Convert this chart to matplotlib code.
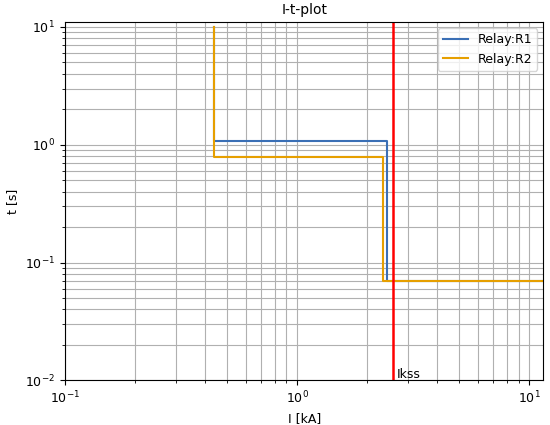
import matplotlib
matplotlib.use("Agg")
import matplotlib.pyplot as plt

plt.rcParams["font.size"] = 9

r1_I = [0.44, 0.44, 2.43, 2.43, 12]
r1_t = [10, 1.08, 1.08, 0.07, 0.07]
r2_I = [0.44, 0.44, 2.35, 2.35, 12]
r2_t = [10, 0.79, 0.79, 0.07, 0.07]
ikss = 2.6

fig, ax = plt.subplots(figsize=(5.5, 4.25), dpi=100)
ax.loglog(r1_I, r1_t, color="#3a6fb5", lw=1.5, label="Relay:R1")
ax.loglog(r2_I, r2_t, color="#e69f00", lw=1.5, label="Relay:R2")
ax.axvline(ikss, color="red", lw=1.8)
ax.text(ikss * 1.03, 0.0105, "Ikss", fontsize=9)
ax.set_xlim(0.1, 11.5)
ax.set_ylim(0.01, 11)
ax.grid(True, which="both", color="#b0b0b0", lw=0.8)
ax.set_xlabel("I [kA]")
ax.set_ylabel("t [s]")
ax.set_title("I-t-plot", fontsize=10)
ax.legend(loc="upper right")
fig.subplots_adjust(left=0.118, right=0.988, top=0.948, bottom=0.105)
fig.savefig("out.png")
